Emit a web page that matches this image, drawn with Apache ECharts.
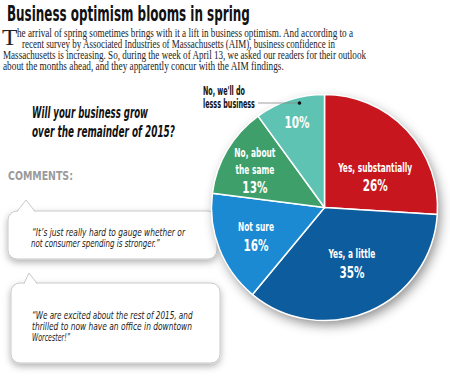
<!DOCTYPE html>
<html><head><meta charset="utf-8">
<script src="https://cdn.jsdelivr.net/npm/echarts@6/dist/echarts.min.js"></script>
<style>html,body{margin:0;padding:0;background:#fff}#c{width:450px;height:383px}</style>
</head><body><div id="c"></div>
<script>
// ---- data ----
const categories = ['Yes, substantially', 'Yes, a little', 'Not sure', 'No, about the same', "No, we'll do lesss business"];
const labelNames = [['Yes, substantially'], ['Yes, a little'], ['Not sure'], ['No, about', 'the same'], []];
const percents = [26, 35, 16, 13, 10];
const colors = ['#c8161e', '#0d5c9d', '#1b8ad2', '#3f9f6b', '#5fc3b3'];
const titleText = 'Business optimism blooms in spring';
const introLines = [
  'he arrival of spring sometimes brings with it a lift in business optimism. And according to a',
  'recent survey by Associated Industries of Massachusetts (AIM), business confidence in',
  'Massachusetts is increasing. So, during the week of April 13, we asked our readers for their outlook',
  'about the months ahead, and they apparently concur with the AIM findings.'
];
const questionLines = ['Will your business grow', 'over the remainder of 2015?'];
const comment1 = ['\u201CIt\u2019s just really hard to gauge whether or', 'not consumer spending is stronger.\u201D'];
const comment2 = ['\u201CWe are excited about the rest of 2015, and', 'thrilled to now have an office in downtown', 'Worcester!\u201D'];
const outerLabel = ["No, we'll do", 'lesss business'];

// ---- helpers ----
const NARROW = "'DejaVu Sans Condensed','Liberation Sans Narrow',sans-serif";
const SERIF = "'Liberation Serif','DejaVu Serif',serif";
const ctx = document.createElement('canvas').getContext('2d');
function fontStr(style, weight, size, fam) { return style + ' ' + weight + ' ' + size + 'px ' + fam; }
function measure(text, font) { ctx.font = font; return ctx.measureText(text).width; }
function fitText(text, x, y, width, font, fill, z) {
  return {
    type: 'text', x: x, y: y, scaleX: width / measure(text, font), z: z || 1,
    style: { text: text, font: font, fill: fill, textAlign: 'left', textVerticalAlign: 'middle' }
  };
}
function scaledCenter(text, x, y, sx, font, fill, z) {
  return {
    type: 'text', x: x, y: y, scaleX: sx, z: z,
    style: { text: text, font: font, fill: fill, textAlign: 'center', textVerticalAlign: 'middle' }
  };
}
function bubble(x, y, w, h, ax, ay, bx0, bx1) {
  return [
    { type: 'rect', z: 1, shape: { x: x, y: y, width: w, height: h, r: 9 },
      style: { fill: '#fff', stroke: '#c9c9c9', lineWidth: 1, shadowBlur: 7, shadowOffsetY: 3, shadowColor: 'rgba(0,0,0,0.3)' } },
    { type: 'polygon', z: 2, shape: { points: [[bx0, y + 1.5], [ax, ay], [bx1, y + 1.5]] }, style: { fill: '#fff' } },
    { type: 'polyline', z: 3, shape: { points: [[bx0, y + 0.5], [ax, ay], [bx1, y + 0.5]] }, style: { stroke: '#c9c9c9', lineWidth: 1, fill: null } }
  ];
}

const g = [];
g.push(fitText(titleText, 7, 13, 243, fontStr('normal', 'bold', 22, NARROW), '#111'));
g.push({ type: 'text', x: 2, y: 36.5, z: 1, scaleX: 1.05, style: { text: 'T', font: fontStr('normal', 'normal', 24, SERIF), fill: '#222', textAlign: 'left', textVerticalAlign: 'middle' } });
const introSpec = [[17, 33.5, 337], [22, 44.5, 314], [3, 55, 364], [3, 66, 282]];
introLines.forEach((t, i) => g.push(fitText(t, introSpec[i][0], introSpec[i][1], introSpec[i][2], fontStr('normal', 'normal', 11.5, SERIF), '#222')));
g.push(fitText(questionLines[0], 32, 113, 116, fontStr('italic', 'bold', 16, NARROW), '#111'));
g.push(fitText(questionLines[1], 32, 132, 143, fontStr('italic', 'bold', 16, NARROW), '#111'));
g.push(fitText('COMMENTS:', 8, 176, 65, fontStr('normal', 'bold', 12.5, NARROW), '#9a9a9a'));
g.push(...bubble(8, 211, 209, 48, 26, 200, 17, 35));
g.push(...bubble(11, 283, 209, 80, 29, 273, 24, 37));
g.push(fitText(comment1[0], 32, 232, 153, fontStr('italic', 'normal', 11, NARROW), '#222', 4));
g.push(fitText(comment1[1], 31, 242.5, 129, fontStr('italic', 'normal', 11, NARROW), '#222', 4));
g.push(fitText(comment2[0], 32, 315, 161, fontStr('italic', 'normal', 11, NARROW), '#222', 4));
g.push(fitText(comment2[1], 32, 326, 160, fontStr('italic', 'normal', 11, NARROW), '#222', 4));
g.push(fitText(comment2[2], 32, 337, 38, fontStr('italic', 'normal', 11, NARROW), '#222', 4));
g.push(fitText(outerLabel[0], 203, 90, 42, fontStr('normal', 'bold', 13, NARROW), '#111', 30));
g.push(fitText(outerLabel[1], 203, 103, 52, fontStr('normal', 'bold', 13, NARROW), '#111', 30));
g.push({ type: 'line', z: 30, shape: { x1: 258, y1: 103, x2: 298, y2: 103 }, style: { stroke: '#888', lineWidth: 0.8 } });
g.push({ type: 'circle', z: 31, shape: { cx: 299.5, cy: 103, r: 1.8 }, style: { fill: '#111' } });

const chart = echarts.init(document.getElementById('c'), null, { renderer: 'svg' });
chart.setOption({
  animation: false,
  series: [
    { type: 'pie', silent: true, z: 5, center: [324.5, 207.5], radius: 112.5, startAngle: 90,
      label: { show: false }, labelLine: { show: false },
      itemStyle: { color: '#fff', shadowBlur: 12, shadowOffsetX: 3, shadowOffsetY: 5, shadowColor: 'rgba(0,0,0,0.45)' },
      data: [{ value: percents.reduce((a, b) => a + b, 0), name: 'shadow' }] },
    { type: 'pie', z: 10, center: [324.5, 207.5], radius: 113, startAngle: 90, clockwise: true,
      itemStyle: { borderColor: '#fff', borderWidth: 1.5 },
      label: { show: false }, labelLine: { show: false },
      data: categories.map((c, i) => ({ name: c, value: percents[i], itemStyle: { color: colors[i] } }))
    }
  ]
});

// Slice labels placed from the pie's own computed layout (mid-angle at half radius, nudged).
const labelOffsets = [[9.5, 7.5], [5, 3.5], [-16, 7.5], [-21, -8.5], [-10, -31]];
const nameFont = fontStr('normal', 'bold', 12.5, NARROW);
const pctFont = fontStr('normal', 'bold', 16, NARROW);
const nameScale = 74 / measure('Yes, substantially', nameFont);
const pctScale = 25 / measure('26%', pctFont);
const pieData = chart.getModel().getSeriesByIndex(1).getData();
percents.forEach((v, i) => {
  const L = pieData.getItemLayout(i);
  const mid = (L.startAngle + L.endAngle) / 2;
  const ax = L.cx + L.r / 2 * Math.cos(mid) + labelOffsets[i][0];
  const ay = L.cy + L.r / 2 * Math.sin(mid) + labelOffsets[i][1];
  const names = labelNames[i];
  const ys = [];
  names.forEach((n, k) => ys.push(k * 16.5));
  ys.push(names.length ? (names.length - 1) * 16.5 + 18.5 : 0);
  const shift = (ys[0] + ys[ys.length - 1]) / 2;
  names.forEach((n, k) => g.push(scaledCenter(n, ax, ay + ys[k] - shift, nameScale, nameFont, '#fff', 40)));
  g.push(scaledCenter(v + '%', ax, ay + ys[ys.length - 1] - shift, pctScale, pctFont, '#fff', 40));
});
chart.setOption({ graphic: { elements: g } });
</script></body></html>
